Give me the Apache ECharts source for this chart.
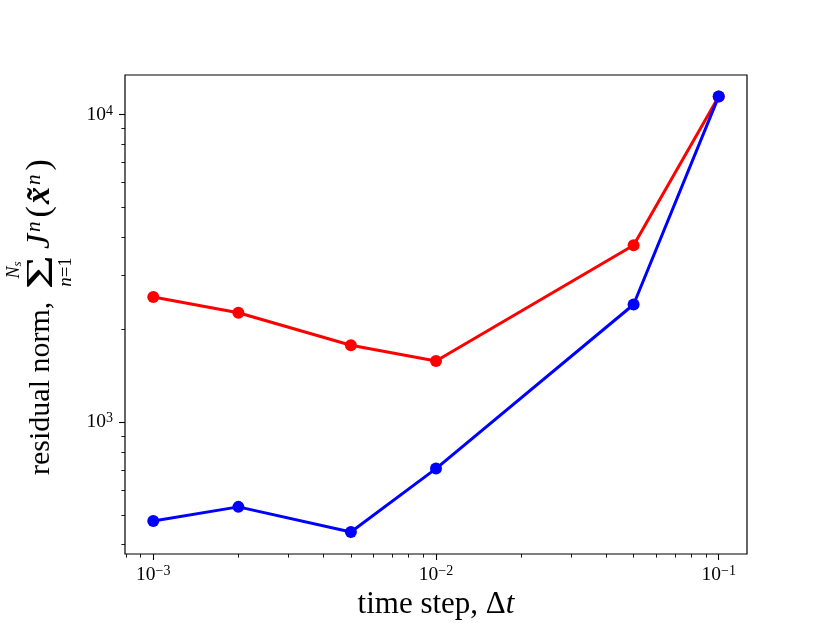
<!DOCTYPE html>
<html>
	<head>
		<meta charset="utf-8">
		<title></title>
		<script src="https://cdn.jsdelivr.net/npm/echarts@6/dist/echarts.min.js"></script>
	</head>
	<body style="margin:0;">
		<div id="my" style="width: 830px;height: 623px;"></div>

		<script>
			var myChart = echarts.init(document.getElementById('my'));

			// time step values (x) and the two residual series (y)
			var timeSteps = [0.001, 0.002, 0.005, 0.01, 0.05, 0.1];
			var redResidual = [2550, 2268, 1778, 1581, 3760, 11440];
			var blueResidual = [478, 531, 440, 707, 2413, 11440];

			// tick positions
			var xMajorTicks = [0.001, 0.01, 0.1];
			var xMinorTicks = [0.0008, 0.0009, 0.002, 0.003, 0.004, 0.005, 0.006, 0.007, 0.008, 0.009,
					0.02, 0.03, 0.04, 0.05, 0.06, 0.07, 0.08, 0.09];
			var yMajorTicks = [1000, 10000];
			var yMinorTicks = [400, 500, 600, 700, 800, 900, 2000, 3000, 4000, 5000, 6000, 7000, 8000, 9000];

			var SERIF = '"Liberation Serif", "DejaVu Serif", serif';

			function pairs(xs, ys) {
				return xs.map(function (x, i) { return [x, ys[i]]; });
			}

			// 10^k label with raised exponent
			function powLabel(v) {
				var e = Math.round(Math.log(v) / Math.LN10);
				return '{b|10}{s|' + (e < 0 ? '\u2212' + (-e) : e) + '}';
			}

			var labelRich = {
				b: {fontSize: 19.5, fontFamily: SERIF, color: '#000', lineHeight: 21},
				s: {fontSize: 14, fontFamily: SERIF, color: '#000', lineHeight: 11, verticalAlign: 'top'}
			};

			var xMin = Math.pow(10, -3.1), xMax = Math.pow(10, -0.9);
			var yMin = Math.pow(10, 2.572), yMax = Math.pow(10, 4.128);

			var option = {
				animation: false,
				backgroundColor: '#fff',
				grid: {
					left: 125,
					right: 83,
					top: 75,
					bottom: 69,
					outerBoundsMode: 'none',
					containLabel: false,
					show: true,
					borderColor: '#000',
					borderWidth: 1.2
				},
				xAxis: [
					{
						type: 'log',
						min: xMin,
						max: xMax,
						position: 'bottom',
						axisLine: {show: false},
						splitLine: {show: false},
						axisTick: {show: true, length: 6, customValues: xMajorTicks, lineStyle: {color: '#000', width: 1.1}},
						axisLabel: {margin: 10, customValues: xMajorTicks, formatter: powLabel, rich: labelRich},
						name: '{r|time step, \u0394}{i|t}',
						nameLocation: 'middle',
						nameGap: 33,
						nameTextStyle: {
							rich: {
								r: {fontSize: 31, fontFamily: SERIF, color: '#000'},
								i: {fontSize: 31, fontFamily: SERIF, fontStyle: 'italic', color: '#000'}
							}
						}
					},
					{
						type: 'log',
						min: xMin,
						max: xMax,
						position: 'bottom',
						axisLine: {show: false},
						splitLine: {show: false},
						axisLabel: {show: false},
						axisTick: {show: true, length: 3.6, customValues: xMinorTicks, lineStyle: {color: '#000', width: 0.9}}
					}
				],
				yAxis: [
					{
						type: 'log',
						min: yMin,
						max: yMax,
						position: 'left',
						axisLine: {show: false},
						splitLine: {show: false},
						axisTick: {show: true, length: 6, customValues: yMajorTicks, lineStyle: {color: '#000', width: 1.1}},
						axisLabel: {margin: 12, customValues: yMajorTicks, formatter: powLabel, rich: labelRich}
					},
					{
						type: 'log',
						min: yMin,
						max: yMax,
						position: 'left',
						axisLine: {show: false},
						splitLine: {show: false},
						axisLabel: {show: false},
						axisTick: {show: true, length: 3.6, customValues: yMinorTicks, lineStyle: {color: '#000', width: 0.9}}
					}
				],
				graphic: [
					{// y axis title, rotated
						type: 'group',
						x: 50,
						y: 475,
						rotation: Math.PI / 2,
						children: [
							{type: 'text', x: 0, y: -9, style: {text: 'residual norm,', font: '30px ' + SERIF, fill: '#000', align: 'left', verticalAlign: 'middle'}},
							{type: 'text', x: 203, y: -7.5, scaleX: 1.55, style: {text: '\u03A3', font: '38px ' + SERIF, fill: '#000', align: 'center', verticalAlign: 'middle'}},
							{type: 'text', x: 205, y: -36, style: {
								text: '{n|N}{s|s}', align: 'center', verticalAlign: 'middle',
								rich: {
									n: {font: 'italic 18px ' + SERIF, fill: '#000', lineHeight: 20},
									s: {font: 'italic 13px ' + SERIF, fill: '#000', lineHeight: 10, verticalAlign: 'bottom'}
								}
							}},
							{type: 'text', x: 203, y: 16, style: {
								text: '{i|n}{r|=1}', align: 'center', verticalAlign: 'middle',
								rich: {
									i: {font: 'italic 19px ' + SERIF, fill: '#000'},
									r: {font: '19px ' + SERIF, fill: '#000'}
								}
							}},
							{type: 'text', x: 226, y: -9.5, style: {
								text: '{j|J}{s|n}{p|(}{x|x\u0303}{s|n}{p|)}', align: 'left', verticalAlign: 'middle',
								rich: {
									j: {font: 'italic 34px ' + SERIF, fill: '#000', lineHeight: 34, padding: [0, 1, 0, 0]},
									p: {font: '34px ' + SERIF, fill: '#000', lineHeight: 34, padding: [0, 1, 0, 1]},
									x: {font: 'italic bold 34px ' + SERIF, fill: '#000', lineHeight: 34, padding: [0, 1, 0, 1]},
									s: {font: 'italic 21px ' + SERIF, fill: '#000', lineHeight: 21, verticalAlign: 'top', padding: [0, 3, 0, 1]}
								}
							}}
						]
					}
				],
				series: [
					{
						name: 'red',
						type: 'line',
						xAxisIndex: 0,
						yAxisIndex: 0,
						data: pairs(timeSteps, redResidual),
						symbol: 'circle',
						symbolSize: 12,
						lineStyle: {color: '#ff0000', width: 3},
						itemStyle: {color: '#ff0000'}
					},
					{
						name: 'blue',
						type: 'line',
						xAxisIndex: 0,
						yAxisIndex: 0,
						data: pairs(timeSteps, blueResidual),
						symbol: 'circle',
						symbolSize: 12,
						lineStyle: {color: '#0000ff', width: 3},
						itemStyle: {color: '#0000ff'}
					}
				]
			};

			myChart.setOption(option);
		</script>
	</body>
</html>
